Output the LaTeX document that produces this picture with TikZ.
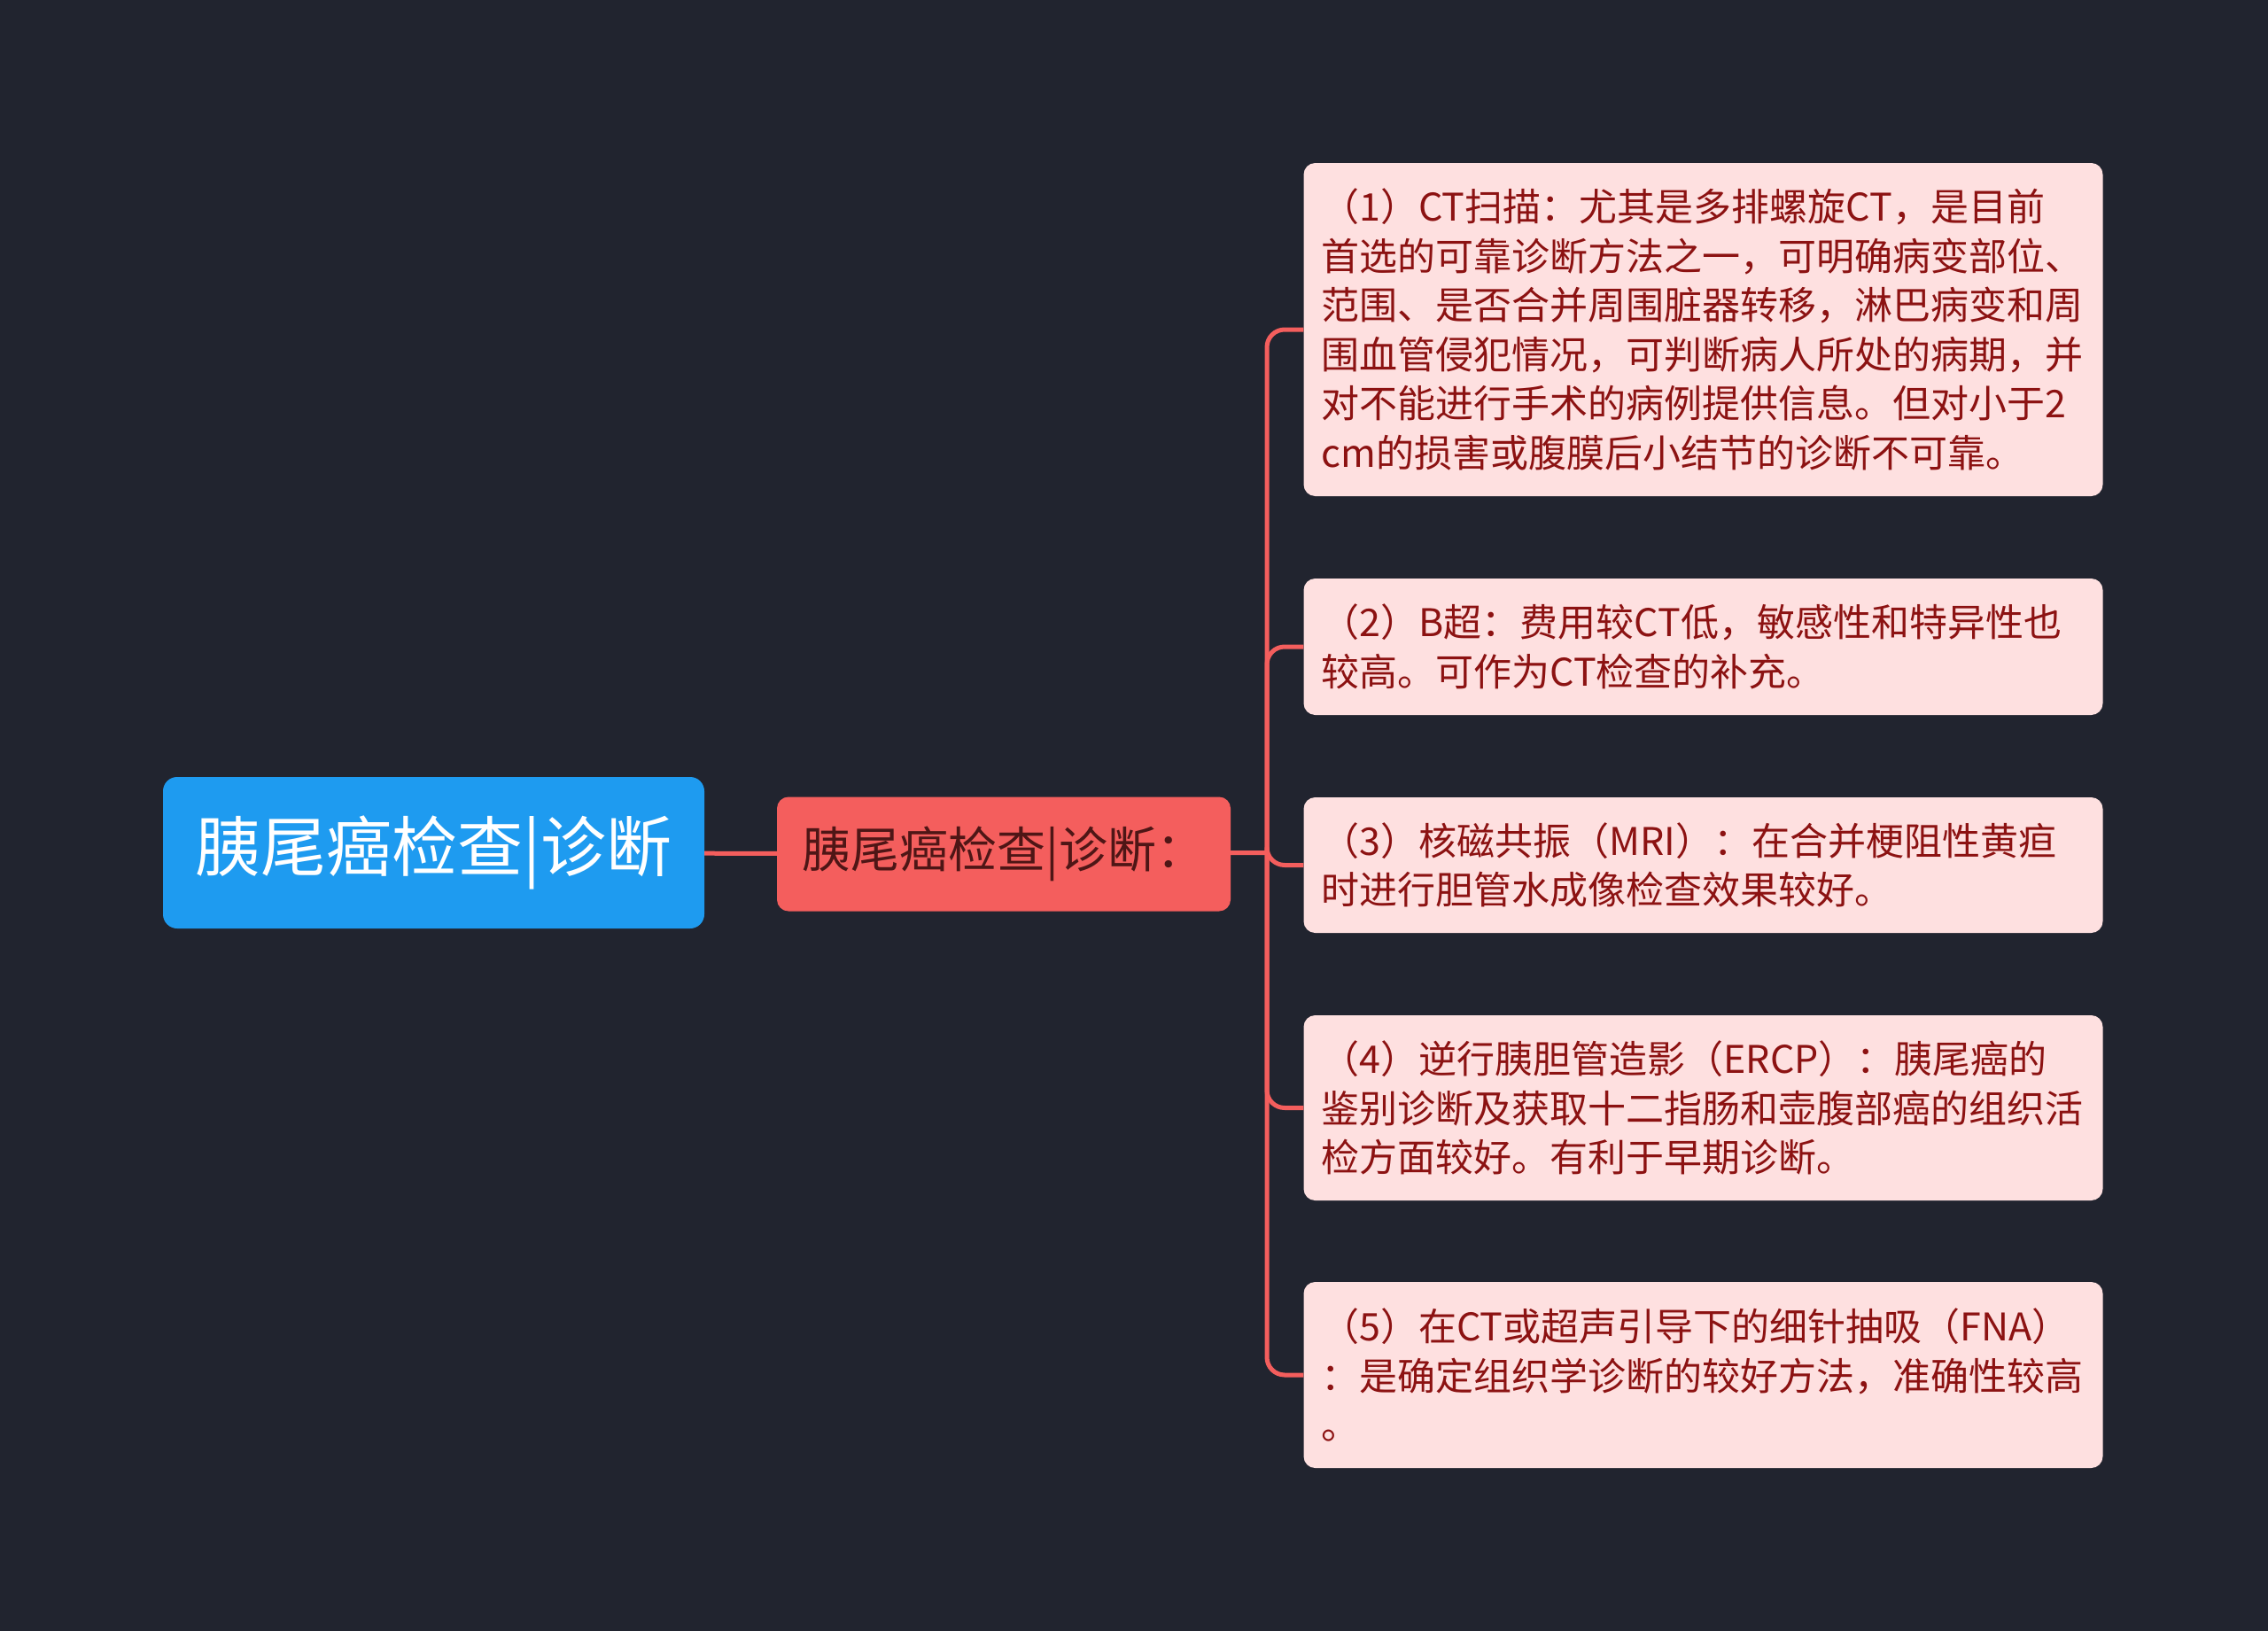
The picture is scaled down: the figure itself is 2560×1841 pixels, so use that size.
\documentclass[tikz,border=0pt]{standalone}
\usepackage{fontspec}
\setmainfont{Noto Sans CJK SC}
\definecolor{bgnavy}{RGB}{33,36,47}
\definecolor{rootblue}{RGB}{30,155,240}
\definecolor{midred}{RGB}{244,94,93}
\definecolor{midtext}{RGB}{78,22,22}
\definecolor{leafpink}{RGB}{254,224,224}
\definecolor{leaftext}{RGB}{140,18,18}
\begin{document}
\begin{tikzpicture}[x=1pt, y=-1pt,
    root/.style={fill=rootblue, text=white, rounded corners=16pt, minimum width=611pt, minimum height=171pt, inner sep=0pt, font=\fontsize{74}{88}\selectfont},
    mid/.style={fill=midred, text=midtext, rounded corners=13pt, minimum width=512pt, minimum height=129pt, inner sep=0pt, font=\fontsize{55}{66}\selectfont},
    leaf/.style={fill=leafpink, text=leaftext, rounded corners=13pt, text width=862pt, inner xsep=20pt, inner ysep=0pt, align=left, font=\fontsize{43}{55.5}\selectfont},
    link/.style={draw=midred, line width=5pt}]
\fill[bgnavy] (0,0) rectangle (2560,1841);
\node[root] (root) at (489.5,962.5) {胰尾癌检查|诊断};
\node[mid] (mid) at (1133,964) {胰尾癌检查|诊断：};
\coordinate (hub) at (1430,962.5);
\foreach \i/\y/\h/\txt in {
    1/372/376/{（1）CT扫描：尤其是多排螺旋CT，是目前\\首选的可靠诊断方法之一，可明确病变部位、\\范围、是否合并周围脏器转移，淋巴病变和周\\围血管侵犯情况，可判断病人所处的病期，并\\对不能进行手术的病例提供信息。但对小于2\\cm的损害或腹膜后小结节的诊断不可靠。},
    2/730/154/{（2）B超：费用较CT低，敏感性和特异性也\\较高。可作为CT检查的补充。},
    3/976.5/153/{（3）核磁共振（MRI）：在合并梗阻性黄疸\\时进行胆管水成像检查效果较好。},
    4/1250.5/209/{（4）逆行胰胆管造影（ERCP）：胰尾癌的\\鉴别诊断及获取十二指肠和壶腹部癌的组织活\\检方面较好。有利于早期诊断。},
    5/1552/210/{（5）在CT或超声引导下的细针抽吸（FNA）\\：是确定组织学诊断的较好方法，准确性较高\\。}}
{
    \node[leaf, minimum height=\h pt] (c\i) at (1922.5,\y) {\txt};
}
\draw[link] (root) -- (mid);
\draw[link] (mid) -- (hub);
\foreach \i in {1,...,5}
{
    \draw[link, rounded corners=20pt] (hub) |- (c\i.west);
}
\end{tikzpicture}
\end{document}
